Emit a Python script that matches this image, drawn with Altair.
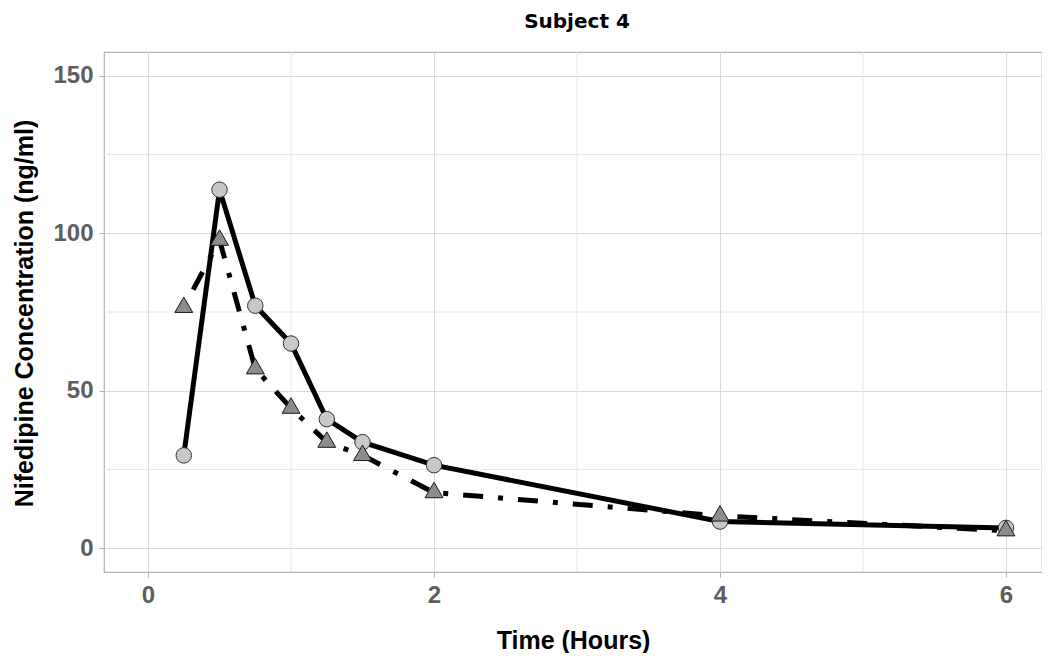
import altair as alt
import pandas as pd

# ---- data ----
time_h = [0.25, 0.5, 0.75, 1.0, 1.25, 1.5, 2.0, 4.0, 6.0]
conc_circle = [29.5, 113.8, 77.0, 65.0, 41.0, 33.7, 26.4, 8.5, 6.5]
conc_triangle = [76.5, 97.8, 57.0, 44.5, 33.7, 29.5, 17.7, 10.3, 5.6]

x_major = [0, 2, 4, 6]
x_minor = [1, 3, 5]
y_major = [0, 50, 100, 150]
y_minor = [25, 75, 125]

chart_title = ["Subject 4"]
x_title = "Time (Hours)"
y_title = "Nifedipine Concentration (ng/ml)"

df_c = pd.DataFrame({"time": time_h, "conc": conc_circle})
df_t = pd.DataFrame({"time": time_h, "conc": conc_triangle})
df_xm = pd.DataFrame({"v": x_minor})
df_ym = pd.DataFrame({"v": y_minor})
df_title = pd.DataFrame({"t": chart_title})

FONT = "Liberation Sans, Arial, sans-serif"
LABEL_COLOR = "#5e5e5e"
GRID_MAJOR = "#d9d9d9"
GRID_MINOR = "#e6e6e6"

W, H = 938, 520

xs = alt.Scale(domain=[-0.308, 6.252], nice=False, zero=False)
ys = alt.Scale(domain=[-7.5, 157.5], nice=False, zero=False)

x_axis = alt.Axis(
    values=x_major, title=x_title, grid=True, gridColor=GRID_MAJOR, gridWidth=1,
    domain=False, ticks=True, tickColor="#b3b3b3", tickSize=5, tickWidth=1,
    labelFont=FONT, labelFontSize=24, labelFontWeight="bold", labelColor=LABEL_COLOR,
    labelPadding=6, format="d",
    titleFont=FONT, titleFontSize=25, titleFontWeight="bold", titleColor="#000000",
    titleBaseline="alphabetic", titleY=76,
)
y_axis = alt.Axis(
    values=y_major, title=y_title, grid=True, gridColor=GRID_MAJOR, gridWidth=1,
    domain=False, ticks=True, tickColor="#b3b3b3", tickSize=5, tickWidth=1,
    labelFont=FONT, labelFontSize=24, labelFontWeight="bold", labelColor=LABEL_COLOR,
    labelPadding=6, format="d",
    titleFont=FONT, titleFontSize=25, titleFontWeight="bold", titleColor="#000000",
    titleAngle=270, titleBaseline="alphabetic", titleAlign="center",
    titleX=-72, titleY=261,
)

grid_x = alt.Chart(df_xm).mark_rule(color=GRID_MINOR, strokeWidth=1).encode(
    x=alt.X("v:Q", scale=xs, axis=x_axis)
)
grid_y = alt.Chart(df_ym).mark_rule(color=GRID_MINOR, strokeWidth=1).encode(
    y=alt.Y("v:Q", scale=ys, axis=y_axis)
)

enc = dict(
    x=alt.X("time:Q", scale=xs, axis=x_axis),
    y=alt.Y("conc:Q", scale=ys, axis=y_axis),
)

line_c = alt.Chart(df_c).mark_line(color="#000000", strokeWidth=5).encode(**enc)
line_t = alt.Chart(df_t).mark_line(
    color="#000000", strokeWidth=5, strokeDash=[5, 15, 20, 15], strokeCap="butt"
).encode(**enc)

pts_c = alt.Chart(df_c).mark_point(
    shape="circle", filled=True, fill="#c8c8c8", stroke="#333333",
    strokeWidth=1, size=240, opacity=1,
).encode(**enc)

TRI = "M0,-1.155L1,0.577L-1,0.577Z"
pts_t = alt.Chart(df_t).mark_point(
    shape=TRI, filled=True, fill="#8c8c8c", stroke="#1a1a1a",
    strokeWidth=1, size=320, opacity=1,
).encode(**enc)

title_txt = alt.Chart(df_title).mark_text(
    font="DejaVu Sans", fontSize=20, fontWeight="bold", color="#000000",
    align="center", baseline="alphabetic",
).encode(text="t:N", x=alt.value(473), y=alt.value(-24))

chart = (
    alt.layer(grid_x, grid_y, line_c, line_t, pts_c, pts_t, title_txt)
    .properties(
        width=W, height=H,
        autosize=alt.AutoSizeParams(type="none"),
        padding={"left": 96, "top": 44, "right": 0, "bottom": 81},
    )
    .configure_view(stroke="#b3b3b3", strokeWidth=1.2)
)

chart.save("out.html", embed_options={"renderer": "svg", "actions": False})
